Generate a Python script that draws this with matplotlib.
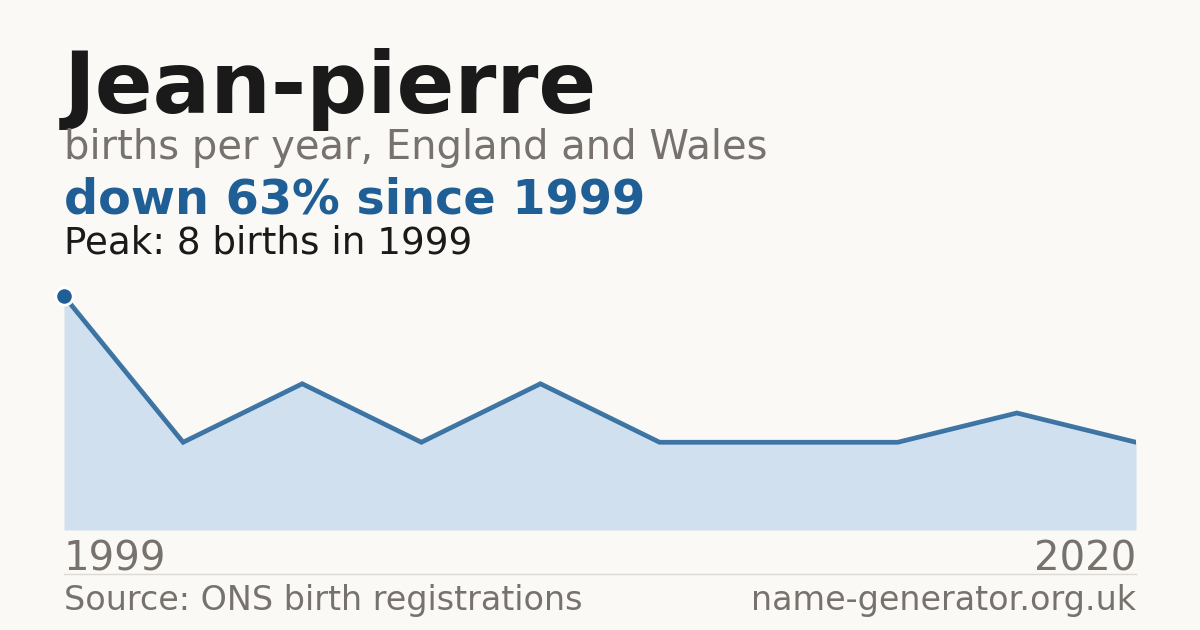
import matplotlib
matplotlib.use("Agg")
import matplotlib.pyplot as plt
from matplotlib.lines import Line2D

# Births per data point (equally spaced), first and last year shown
births = [8, 3, 5, 3, 5, 3, 3, 3, 4, 3]
first_year = "1999"
last_year = "2020"

name = "Jean-pierre"
subtitle = "births per year, England and Wales"
headline = "down 63% since 1999"
peak_note = "Peak: 8 births in 1999"
source = "Source: ONS birth registrations"
site = "name-generator.org.uk"

bg = "#faf9f5"
blue = "#1f5f96"
fill = "#d0e0ef"
grey = "#77726d"
dark = "#1a1a1a"

fig = plt.figure(figsize=(12, 6.3), dpi=100, facecolor=bg)

# chart area
ax = fig.add_axes([64 / 1200, 100 / 630, 1072 / 1200, 234 / 630])
ax.set_facecolor(bg)
xs = list(range(len(births)))
ax.fill_between(xs, births, 0, color=fill, linewidth=0)
ax.plot(xs, births, color=blue, linewidth=3.4, alpha=0.85, solid_joinstyle="miter")
ax.plot([0], [births[0]], marker="o", markersize=12.5, color=blue,
        markeredgecolor="white", markeredgewidth=2, clip_on=False, zorder=5)
ax.set_xlim(0, len(births) - 1)
ax.set_ylim(0, max(births))
ax.axis("off")

# header text
fig.text(64 / 1200, 0.8206, name, fontsize=61.5, fontweight="bold", color=dark, va="baseline")
fig.text(64 / 1200, 0.7476, subtitle, fontsize=28.8, color=grey, va="baseline")
fig.text(64 / 1200, 0.6619, headline, fontsize=34.4, fontweight="bold", color=blue, va="baseline")
fig.text(64 / 1200, 0.5984, peak_note, fontsize=26.8, color=dark, va="baseline")

# year labels
fig.text(64 / 1200, 0.0952, first_year, fontsize=28.9, color=grey, va="baseline", ha="left")
fig.text(1136 / 1200, 0.0952, last_year, fontsize=28.9, color=grey, va="baseline", ha="right")

# separator and footer
fig.add_artist(Line2D([64 / 1200, 1136 / 1200], [56 / 630, 56 / 630], color="#dddad3", linewidth=1))
fig.text(64 / 1200, 0.0317, source, fontsize=24, color=grey, va="baseline", ha="left")
fig.text(1136 / 1200, 0.0317, site, fontsize=24, color=grey, va="baseline", ha="right")

fig.savefig("out.png", dpi=100, facecolor=bg)
